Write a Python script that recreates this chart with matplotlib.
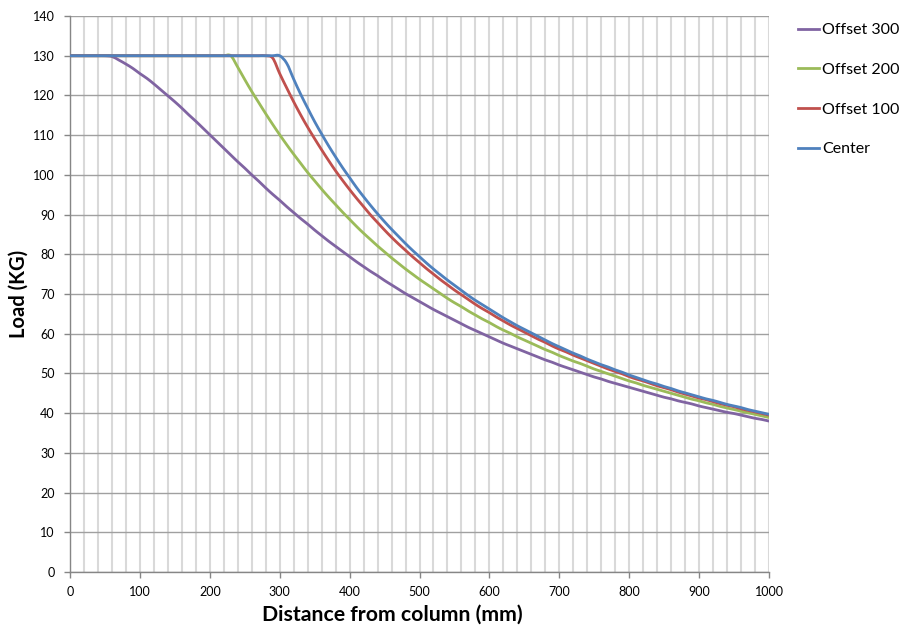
import numpy as np
import matplotlib
matplotlib.use('Agg')
import matplotlib.pyplot as plt
from matplotlib.path import Path
from matplotlib.patches import PathPatch
from matplotlib.lines import Line2D

plt.rcParams['font.family'] = ['Lato', 'DejaVu Sans']

# distance from column (mm), every 10 mm
distance = list(range(0, 1001, 10))

# load values (KG), one row per 100 mm
offset_300 = ([130, 130, 130, 130, 130, 130, 129.8, 128.9, 127.9, 126.8] +
              [125.5, 124.3, 122.9, 121.4, 119.9, 118.4, 116.8, 115.1, 113.5, 111.8] +
              [110.1, 108.4, 106.7, 105.0, 103.3, 101.7, 100.0, 98.4, 96.7, 95.1] +
              [93.6, 92.0, 90.5, 89.0, 87.6, 86.1, 84.7, 83.3, 82.0, 80.7] +
              [79.4, 78.1, 76.9, 75.7, 74.6, 73.4, 72.3, 71.2, 70.1, 69.1] +
              [68.1, 67.1, 66.1, 65.2, 64.3, 63.4, 62.5, 61.6, 60.8, 60.0] +
              [59.2, 58.4, 57.6, 56.9, 56.2, 55.5, 54.8, 54.1, 53.4, 52.8] +
              [52.1, 51.5, 50.9, 50.3, 49.7, 49.1, 48.6, 48.0, 47.5, 47.0] +
              [46.5, 46.0, 45.5, 45.0, 44.5, 44.0, 43.6, 43.1, 42.7, 42.3] +
              [41.8, 41.4, 41.0, 40.6, 40.2, 39.9, 39.5, 39.1, 38.7, 38.4] +
              [38.0])
offset_200 = ([130] * 20 +
              [130, 130, 130, 130, 127.1, 124.0, 121.0, 118.2, 115.4, 112.7] +
              [110.1, 107.6, 105.2, 102.9, 100.6, 98.5, 96.4, 94.4, 92.5, 90.6] +
              [88.8, 87.0, 85.3, 83.7, 82.1, 80.6, 79.1, 77.7, 76.3, 75.0] +
              [73.7, 72.5, 71.3, 70.1, 68.9, 67.8, 66.8, 65.7, 64.7, 63.7] +
              [62.8, 61.8, 60.9, 60.1, 59.2, 58.4, 57.6, 56.8, 56.0, 55.3] +
              [54.5, 53.8, 53.1, 52.5, 51.8, 51.1, 50.5, 49.9, 49.3, 48.7] +
              [48.1, 47.6, 47.0, 46.5, 46.0, 45.5, 45.0, 44.5, 44.0, 43.5] +
              [43.1, 42.6, 42.2, 41.7, 41.3, 40.9, 40.5, 40.1, 39.7, 39.3] +
              [38.9])
offset_100 = ([130] * 29 + [129.4] +
              [125.5, 121.9, 118.4, 115.1, 112.0, 109.1, 106.3, 103.6, 101.0, 98.6] +
              [96.3, 94.1, 92.0, 89.9, 88.0, 86.1, 84.3, 82.6, 81.0, 79.4] +
              [77.9, 76.4, 75.0, 73.6, 72.3, 71.0, 69.8, 68.6, 67.4, 66.3] +
              [65.3, 64.2, 63.2, 62.2, 61.3, 60.4, 59.5, 58.6, 57.8, 56.9] +
              [56.1, 55.4, 54.6, 53.9, 53.2, 52.5, 51.8, 51.1, 50.5, 49.9] +
              [49.2, 48.6, 48.1, 47.5, 46.9, 46.4, 45.9, 45.3, 44.8, 44.3] +
              [43.8, 43.4, 42.9, 42.4, 42.0, 41.6, 41.1, 40.7, 40.3, 39.9] +
              [39.5])
center = ([130] * 30 +
          [130, 128.1, 124.1, 120.3, 116.8, 113.4, 110.3, 107.3, 104.5, 101.8] +
          [99.3, 96.8, 94.5, 92.3, 90.2, 88.2, 86.3, 84.5, 82.7, 81.0] +
          [79.4, 77.8, 76.3, 74.9, 73.5, 72.2, 70.9, 69.6, 68.4, 67.3] +
          [66.2, 65.1, 64.0, 63.0, 62.0, 61.1, 60.2, 59.3, 58.4, 57.5] +
          [56.7, 55.9, 55.1, 54.4, 53.6, 52.9, 52.2, 51.6, 50.9, 50.3] +
          [49.6, 49.0, 48.4, 47.8, 47.3, 46.7, 46.2, 45.6, 45.1, 44.6] +
          [44.1, 43.6, 43.2, 42.7, 42.2, 41.8, 41.4, 40.9, 40.5, 40.1] +
          [39.7])

series = [
    ('Offset 300', offset_300, '#8064A2'),
    ('Offset 200', offset_200, '#9BBB59'),
    ('Offset 100', offset_100, '#C0504D'),
    ('Center', center, '#4F81BD'),
]


def smooth_path(xs, ys):
    # Excel-like smoothed line: cubic bezier through the points
    pts = np.column_stack([xs, ys]).astype(float)
    n = len(pts)
    verts = [pts[0]]
    codes = [Path.MOVETO]
    for i in range(n - 1):
        p0 = pts[max(i - 1, 0)]
        p1 = pts[i]
        p2 = pts[i + 1]
        p3 = pts[min(i + 2, n - 1)]
        verts += [p1 + (p2 - p0) / 6.0, p2 - (p3 - p1) / 6.0, p2]
        codes += [Path.CURVE4] * 3
    return Path(verts, codes)


fig = plt.figure(figsize=(9.03, 6.29), dpi=100)
ax = fig.add_axes([70 / 903, 57 / 629, 699 / 903, 556 / 629])

ax.set_xlim(0, 1000)
ax.set_ylim(0, 140)
ax.set_xticks(np.arange(0, 1001, 100))
ax.set_xticks(np.arange(0, 1001, 20), minor=True)
ax.set_yticks(np.arange(0, 141, 10))

# grid
ax.grid(True, which='minor', axis='x', color='#d9d9d9', lw=1.5, zorder=0)
ax.grid(True, which='major', axis='x', color='#d9d9d9', lw=1.5, zorder=0)
ax.grid(True, which='major', axis='y', color='#a0a0a0', lw=1.0, zorder=1)
ax.set_axisbelow(True)

for side in ['top', 'right']:
    ax.spines[side].set_visible(False)
for side in ['left', 'bottom']:
    ax.spines[side].set_color('#868686')
    ax.spines[side].set_linewidth(1.0)

ax.tick_params(axis='both', which='major', direction='out', length=4,
               width=1, color='#868686', labelsize=9, labelcolor='#000000')
ax.tick_params(axis='y', pad=7)
ax.tick_params(axis='x', pad=6)
ax.tick_params(axis='x', which='minor', length=0)

handles = []
for name, vals, col in series:
    patch = PathPatch(smooth_path(distance, vals), fill=False, edgecolor=col,
                      lw=2.0, zorder=3, capstyle='round', joinstyle='round')
    ax.add_patch(patch)
    handles.append(Line2D([], [], color=col, lw=2.0, label=name))

fig.legend(handles=handles, loc='upper left',
           bbox_to_anchor=(798 / 903, 1 - 23 / 629), frameon=False,
           fontsize=11.5, handlelength=1.3, handletextpad=0.2,
           labelspacing=1.6, borderpad=0, borderaxespad=0)

fig.text(392 / 903, 1 - 615 / 629, 'Distance from column (mm)', ha='center',
         va='center', fontsize=15.3, fontweight='bold')
fig.text(19 / 903, 1 - 294 / 629, 'Load (KG)', ha='center', va='center',
         rotation=90, fontsize=14.5, fontweight='bold')

fig.savefig('out.png', dpi=100)
